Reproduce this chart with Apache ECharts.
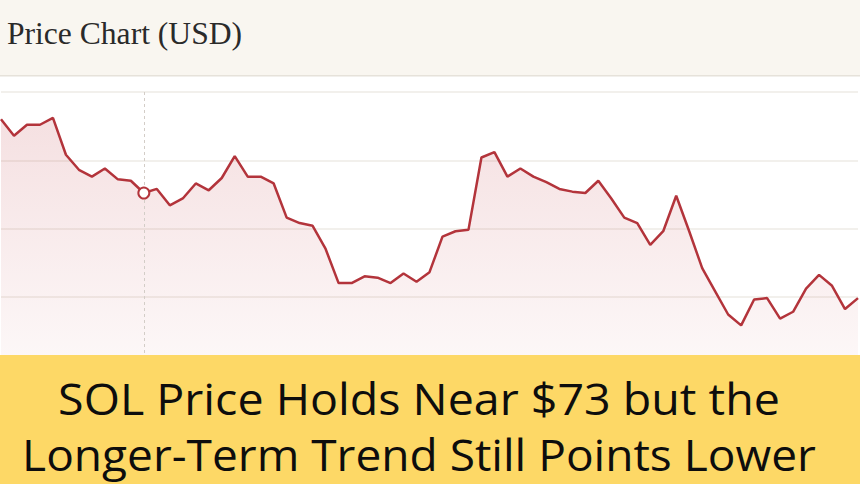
<!DOCTYPE html>
<html>
<head>
<meta charset="utf-8">
<script src="https://cdn.jsdelivr.net/npm/echarts@6/dist/echarts.min.js"></script>
<style>
html,body{margin:0;padding:0;background:#fff;}
#chart{width:860px;height:484px;}
</style>
</head>
<body>
<div id="chart"></div>
<script>
// ---- data ----
var headerTitle = 'Price Chart (USD)';
var bannerLines = ['SOL Price Holds Near $73 but the', 'Longer-Term Trend Still Points Lower'];
var days = [];
for (var i = 0; i < 67; i++) { days.push('D' + (i + 1)); }
var prices = [
  88.0, 86.8, 87.6, 87.6, 88.1, 85.4, 84.3, 83.8, 84.4, 83.6,
  83.5, 82.6, 82.9, 81.7, 82.2, 83.3, 82.8, 83.7, 85.3, 83.8,
  83.8, 83.3, 80.8, 80.4, 80.2, 78.5, 76.0, 76.0, 76.5, 76.4,
  76.0, 76.7, 76.1, 76.8, 79.4, 79.8, 79.9, 85.2, 85.6, 83.8,
  84.4, 83.8, 83.4, 82.9, 82.7, 82.6, 83.5, 82.2, 80.8, 80.4,
  78.8, 79.8, 82.4, 79.8, 77.1, 75.4, 73.7, 72.9, 74.8, 74.9,
  73.4, 73.9, 75.6, 76.6, 75.8, 74.1, 74.9
];
var hoverIndex = 11;
var yTicks = [70, 75, 80, 85, 90];

// ---- helpers ----
function fitScale(text, font, target) {
  var c = document.createElement('canvas').getContext('2d');
  c.font = font;
  return target / c.measureText(text).width;
}
var bannerFont = 'Open Sans';
var bannerSize = 44;
var s1 = fitScale(bannerLines[0], bannerSize + 'px "' + bannerFont + '"', 722);
var s2 = fitScale(bannerLines[1], bannerSize + 'px "' + bannerFont + '"', 794);
var headScale = fitScale(headerTitle, '31px "Liberation Serif"', 235);

var chart = echarts.init(document.getElementById('chart'), null, {renderer: 'svg'});
var lineColor = '#b3343b';
chart.setOption({
  animation: false,
  backgroundColor: '#ffffff',
  grid: {left: 1, right: 2, top: 92, bottom: 119, containLabel: false},
  xAxis: {
    type: 'category', data: days, boundaryGap: false,
    axisLine: {show: false}, axisTick: {show: false}, axisLabel: {show: false},
    splitLine: {show: false}
  },
  yAxis: {
    type: 'value', min: yTicks[0], max: yTicks[yTicks.length - 1], interval: 5,
    axisLine: {show: false}, axisTick: {show: false}, axisLabel: {show: false},
    splitLine: {show: true, lineStyle: {color: '#eeebe6', width: 1.5}}
  },
  series: [{
    type: 'line',
    data: prices,
    symbol: 'none',
    lineStyle: {color: lineColor, width: 2.5},
    areaStyle: {
      color: new echarts.graphic.LinearGradient(0, 0, 0, 1, [
        {offset: 0, color: 'rgba(190,55,62,0.22)'},
        {offset: 1, color: 'rgba(190,55,62,0.05)'}
      ])
    },
    markLine: {
      silent: true, symbol: 'none', label: {show: false},
      lineStyle: {color: '#d3cdc7', type: [3, 3], width: 1},
      data: [{xAxis: hoverIndex}]
    },
    markPoint: {
      silent: true,
      symbol: 'circle', symbolSize: 11,
      label: {show: false},
      itemStyle: {color: '#ffffff', borderColor: lineColor, borderWidth: 2},
      data: [{coord: [hoverIndex, prices[hoverIndex]]}]
    },
    z: 3
  }],
  graphic: [
    {type: 'rect', shape: {x: 0, y: 0, width: 860, height: 75}, style: {fill: '#f9f6f0'}, z: 10},
    {type: 'rect', shape: {x: 0, y: 75, width: 860, height: 1.5}, style: {fill: '#e6e2da'}, z: 10},
    {type: 'text', x: 7, y: 34, scaleX: headScale, z: 11,
      style: {text: headerTitle, font: '31px "Liberation Serif"', fill: '#2a2a2a', textAlign: 'left', textVerticalAlign: 'middle'}},
    {type: 'rect', shape: {x: 0, y: 355, width: 860, height: 129}, style: {fill: '#fdd866'}, z: 10},
    {type: 'text', x: 419, y: 398.5, scaleX: s1, z: 11,
      style: {text: bannerLines[0], font: bannerSize + 'px "' + bannerFont + '"', fill: '#0d0d0d', textAlign: 'center', textVerticalAlign: 'middle'}},
    {type: 'text', x: 419, y: 454, scaleX: s2, z: 11,
      style: {text: bannerLines[1], font: bannerSize + 'px "' + bannerFont + '"', fill: '#0d0d0d', textAlign: 'center', textVerticalAlign: 'middle'}}
  ]
});
</script>
</body>
</html>
